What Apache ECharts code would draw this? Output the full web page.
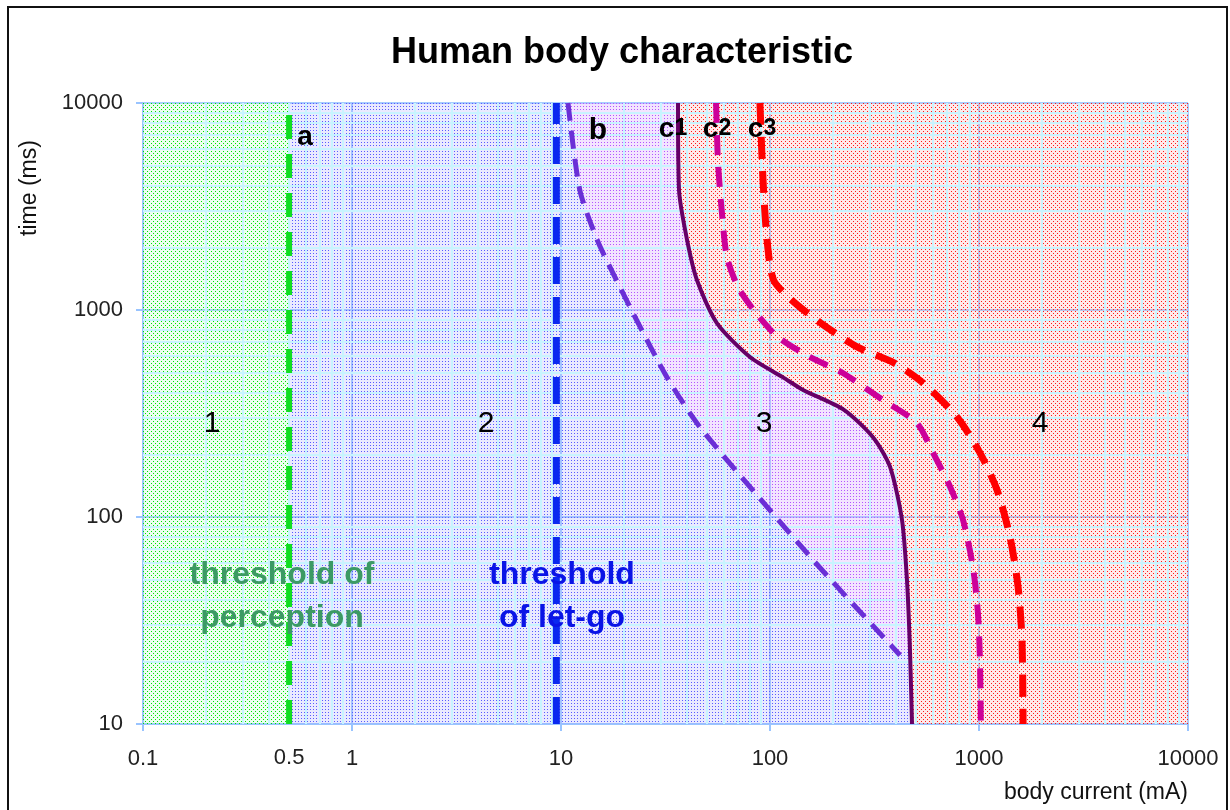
<!DOCTYPE html>
<html>
<head>
<meta charset="utf-8">
<script src="https://cdn.jsdelivr.net/npm/echarts@6/dist/echarts.min.js"></script>
<style>
  html, body { margin: 0; padding: 0; background: #fff; }
  #chart { width: 1230px; height: 810px; }
</style>
</head>
<body>
<div id="chart"></div>
<script>
  // axis ranges (body current mA, time ms)
  const xRange = [0.1, 10000]
  const yRange = [10, 10000]
  const extraXLabel = 0.5

  // boundary curves, [current mA, time ms]
  const curveA = [[0.5, 10], [0.5, 10000]]
  const curveLetGo = [[9.5, 10], [9.5, 10000]]
  const curveB = [[10.8, 10000], [12.3, 3800], [14.9, 2180], [17.7, 1510], [22.1, 968], [32.1, 474],
    [46.2, 272], [96.8, 112], [173, 57], [419, 21.5]]
  const curveC1 = [[36.3, 10000], [36.7, 3800], [40.1, 2180], [44.7, 1396], [55.7, 865], [80.2, 593],
    [115, 474], [144, 411], [225, 330], [311, 243], [375, 175], [428, 97], [452, 50], [467, 23.5], [478, 10]]
  const curveC2 = [[55.2, 10000], [56.4, 5130], [58.9, 2940], [62.2, 1803], [70.3, 1291], [85.7, 968],
    [109, 741], [155, 593], [223, 496], [347, 367], [505, 284], [603, 204], [727, 140], [838, 97],
    [936, 57], [989, 34], [1011, 20], [1020, 10]]
  const curveC3 = [[89.5, 10000], [92.6, 4250], [96.8, 2180], [104, 1396], [127, 1117], [175, 865],
    [261, 663], [392, 555], [540, 444], [785, 304], [1011, 204], [1220, 135], [1407, 80], [1538, 46],
    [1606, 25.5], [1625, 10]]

  // zone numbers
  const zoneNames = ['1', '2', '3', '4']

  const chart = echarts.init(document.getElementById('chart'))

  // dotted fill like the excel pattern fills
  const makePattern = (size, dots, color, bg) => {
    const c = document.createElement('canvas')
    c.width = size
    c.height = size
    const g = c.getContext('2d')
    g.fillStyle = bg
    g.fillRect(0, 0, size, size)
    g.fillStyle = color
    dots.forEach(d => g.fillRect(d[0], d[1], 1, 1))
    return { image: c, repeat: 'repeat' }
  }
  const greenFill = makePattern(4, [[1, 1], [3, 3]], '#00e400', 'rgba(170,255,185,0.22)')
  const blueFill = makePattern(3, [[1, 1]], '#5a5aff', 'rgba(160,160,255,0.22)')
  const purpleFill = makePattern(3, [[1, 1]], '#b455ff', 'rgba(215,165,255,0.3)')
  const redFill = makePattern(4, [[1, 1], [3, 3]], '#ff1a1a', 'rgba(255,170,170,0.25)')

  // split c1 where curve b ends
  const bEnd = curveB[curveB.length - 1]
  let k = 0
  while (k < curveC1.length - 1 && curveC1[k + 1][1] > bEnd[1]) k++
  const zone1 = [[xRange[0], yRange[0]], [curveA[0][0], yRange[0]], [curveA[1][0], yRange[1]], [xRange[0], yRange[1]]]
  const zone2 = [[curveA[0][0], yRange[0]], [curveA[1][0], yRange[1]], ...curveB, ...curveC1.slice(k)]
  const zone3 = [...curveB, ...curveC1.slice(0, k + 1).reverse()]
  const zone4 = [...curveC1, [xRange[1], yRange[0]], [xRange[1], yRange[1]]]

  const zoneSeries = (pts, fill) => ({
    type: 'custom',
    z: 2,
    silent: true,
    data: [[1, 100]],
    renderItem: (params, api) => ({
      type: 'polygon',
      shape: { points: pts.map(p => api.coord(p)) },
      style: { fill: fill, stroke: null }
    })
  })

  const lineSeries = (data, color, width, dash, smooth) => ({
    type: 'line',
    z: 5,
    data: data,
    smooth: smooth,
    showSymbol: false,
    symbol: 'none',
    silent: true,
    lineStyle: { color: color, width: width, type: dash }
  })

  // minor log grid lines
  const minorX = []
  for (let d = xRange[0]; d < xRange[1]; d *= 10) {
    for (let m = 2; m < 10; m++) minorX.push({ xAxis: +(d * m).toPrecision(3) })
  }
  const minorY = []
  for (let d = yRange[0]; d < yRange[1]; d *= 10) {
    for (let m = 2; m < 10; m++) minorY.push({ yAxis: d * m })
  }

  const fmt = v => String(+(+v).toPrecision(4))

  chart.setOption({
    animation: false,
    grid: { left: 143, top: 103, right: 42, bottom: 86 },
    xAxis: {
      type: 'log',
      logBase: 10,
      min: xRange[0],
      max: xRange[1],
      splitNumber: 5,
      axisLine: { lineStyle: { color: '#99c4ff', width: 2 } },
      axisTick: { show: true, length: 7, lineStyle: { color: '#99c4ff', width: 2 } },
      axisLabel: { color: '#222', fontSize: 22, fontFamily: 'Liberation Sans', margin: 24, formatter: fmt },
      splitLine: { show: true, lineStyle: { color: '#a6cdff', width: 2 } }
    },
    yAxis: {
      type: 'log',
      logBase: 10,
      min: yRange[0],
      max: yRange[1],
      splitNumber: 3,
      axisLine: { show: true, lineStyle: { color: '#99c4ff', width: 2 } },
      axisTick: { show: true, length: 7, lineStyle: { color: '#99c4ff', width: 2 } },
      axisLabel: { color: '#222', fontSize: 22, fontFamily: 'Liberation Sans', margin: 20, formatter: fmt },
      splitLine: { show: true, lineStyle: { color: '#a6cdff', width: 2 } }
    },
    series: [
      {
        type: 'line',
        z: 1,
        data: [[xRange[0], yRange[0]]],
        symbol: 'none',
        silent: true,
        lineStyle: { opacity: 0 },
        markLine: {
          silent: true,
          symbol: 'none',
          animation: false,
          label: { show: false },
          lineStyle: { color: '#c8f4ff', width: 2, type: 'solid' },
          emphasis: { disabled: true },
          data: minorX.concat(minorY)
        }
      },
      zoneSeries(zone1, greenFill),
      zoneSeries(zone2, blueFill),
      zoneSeries(zone3, purpleFill),
      zoneSeries(zone4, redFill),
      lineSeries(curveA, '#11dd22', 6, [24, 15], false),
      lineSeries(curveLetGo, '#0a28f0', 7, [27, 13], false),
      lineSeries(curveB, '#6a2fd6', 5, [18, 10], 0.25),
      lineSeries(curveC1, '#660066', 4, 'solid', 0.25),
      lineSeries(curveC2, '#cc0099', 6, [20, 12], 0.25),
      lineSeries(curveC3, '#ff0000', 7, [22, 12], 0.25)
    ]
  })

  const p05 = chart.convertToPixel({ gridIndex: 0 }, [extraXLabel, yRange[0]])
  const txt = (x, y, text, size, color, bold, extra) => Object.assign({
    type: 'text', x: x, y: y, z: 100, silent: true,
    style: Object.assign({
      text: text, fill: color, fontSize: size, fontFamily: 'Liberation Sans',
      fontWeight: bold ? 'bold' : 'normal', align: 'center', verticalAlign: 'middle'
    }, (extra && extra.styleExtra) || {})
  }, extra && extra.rotation ? { rotation: extra.rotation } : {})
  const cLabel = (x, n) => ({
    type: 'text', x: x, y: 129, z: 100, silent: true,
    style: {
      text: '{c|c}{n|' + n + '}', align: 'center', verticalAlign: 'middle',
      rich: {
        c: { fontSize: 28, fontWeight: 'bold', fontFamily: 'Liberation Sans', fill: '#000' },
        n: { fontSize: 23, fontWeight: 'bold', fontFamily: 'Liberation Sans', fill: '#000' }
      }
    }
  })

  chart.setOption({
    graphic: [
      {
        type: 'rect', z: 100, silent: true,
        shape: { x: 8, y: 7, width: 1219, height: 900 },
        style: { fill: null, stroke: '#111', lineWidth: 2 }
      },
      txt(622, 53, 'Human body characteristic', 36, '#000', true),
      txt(30, 188, 'time (ms)', 23, '#111', false, { rotation: Math.PI / 2 }),
      {
        type: 'text', x: 1188, y: 793, z: 100, silent: true,
        style: { text: 'body current (mA)', fill: '#111', fontSize: 23, fontFamily: 'Liberation Sans', align: 'right', verticalAlign: 'middle' }
      },
      txt(p05[0], p05[1] + 34, fmt(extraXLabel), 22, '#222', false),
      txt(212, 424, zoneNames[0], 30, '#000', false),
      txt(486, 424, zoneNames[1], 30, '#000', false),
      txt(764, 424, zoneNames[2], 30, '#000', false),
      txt(1040, 424, zoneNames[3], 30, '#000', false),
      txt(282, 597, 'threshold of\nperception', 32, '#3c9a64', true, { styleExtra: { lineHeight: 43 } }),
      txt(562, 597, 'threshold\nof let-go', 32, '#0a14e6', true, { styleExtra: { lineHeight: 43 } }),
      txt(305, 137, 'a', 28, '#000', true),
      txt(598, 131, 'b', 30, '#000', true),
      cLabel(673, 1),
      cLabel(717, 2),
      cLabel(762, 3)
    ]
  })
</script>
</body>
</html>
